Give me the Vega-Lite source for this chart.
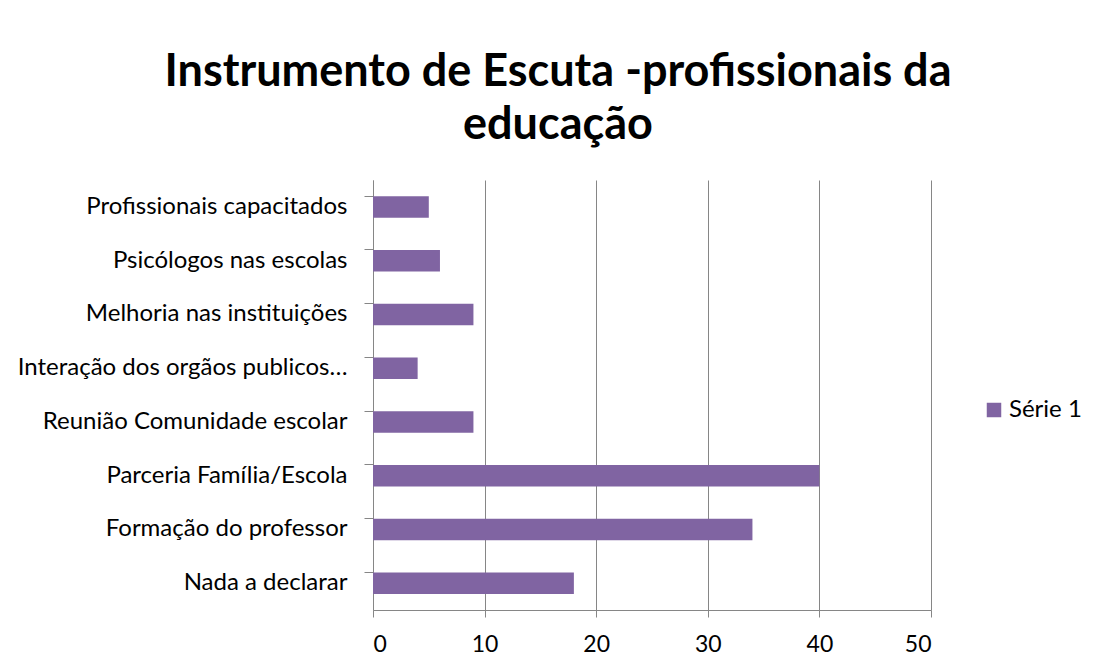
{
  "$schema": "https://vega.github.io/schema/vega-lite/v6.json",
  "autosize": {"type": "none"},
  "width": 558,
  "height": 430,
  "padding": {"left": 373, "top": 180, "right": 172, "bottom": 61},
  "background": "white",
  "title": {
    "text": ["Instrumento de Escuta -profissionais da", "educação"],
    "font": "Lato",
    "fontSize": 45,
    "fontWeight": "bold",
    "color": "black",
    "anchor": "middle",
    "frame": "group",
    "dx": -94,
    "lineHeight": 53,
    "offset": 30,
    "dy": -2
  },
  "data": {
    "values": [
      {"categoria": "Profissionais capacitados", "valor": 5, "serie": "Série 1"},
      {"categoria": "Psicólogos nas escolas", "valor": 6, "serie": "Série 1"},
      {"categoria": "Melhoria nas instituições", "valor": 9, "serie": "Série 1"},
      {"categoria": "Interação dos orgãos publicos…", "valor": 4, "serie": "Série 1"},
      {"categoria": "Reunião Comunidade escolar", "valor": 9, "serie": "Série 1"},
      {"categoria": "Parceria Família/Escola", "valor": 40, "serie": "Série 1"},
      {"categoria": "Formação do professor", "valor": 34, "serie": "Série 1"},
      {"categoria": "Nada a declarar", "valor": 18, "serie": "Série 1"}
    ]
  },
  "mark": {"type": "bar", "color": "#8064A2"},
  "encoding": {
    "y": {
      "field": "categoria",
      "type": "nominal",
      "sort": null,
      "scale": {"paddingInner": 0.6, "paddingOuter": 0.3},
      "axis": {
        "title": null,
        "bandPosition": 0,
        "domainColor": "#868686",
        "tickColor": "#868686",
        "tickSize": 9,
        "labelPadding": 17,
        "labelFont": "Lato",
        "labelFontSize": 24,
        "labelColor": "black",
        "labelLimit": 400,
        "grid": false
      }
    },
    "x": {
      "field": "valor",
      "type": "quantitative",
      "scale": {"domain": [0, 50], "nice": false},
      "axis": {
        "title": null,
        "values": [0, 10, 20, 30, 40, 50],
        "domainColor": "#868686",
        "tickColor": "#868686",
        "tickSize": 7,
        "labelPadding": 16,
        "labelFont": "Lato",
        "labelFontSize": 23,
        "labelColor": "black",
        "grid": true,
        "gridColor": "#868686",
        "gridWidth": 1
      }
    },
    "color": {
      "field": "serie",
      "type": "nominal",
      "scale": {"range": ["#8064A2"]},
      "legend": {
        "title": null,
        "orient": "none",
        "legendX": 609,
        "legendY": 218,
        "symbolType": "square",
        "symbolSize": 210,
        "symbolStrokeWidth": 0,
        "labelOffset": 3,
        "labelFont": "Lato",
        "labelFontSize": 24,
        "labelColor": "black"
      }
    }
  },
  "config": {"view": {"stroke": null}}
}
